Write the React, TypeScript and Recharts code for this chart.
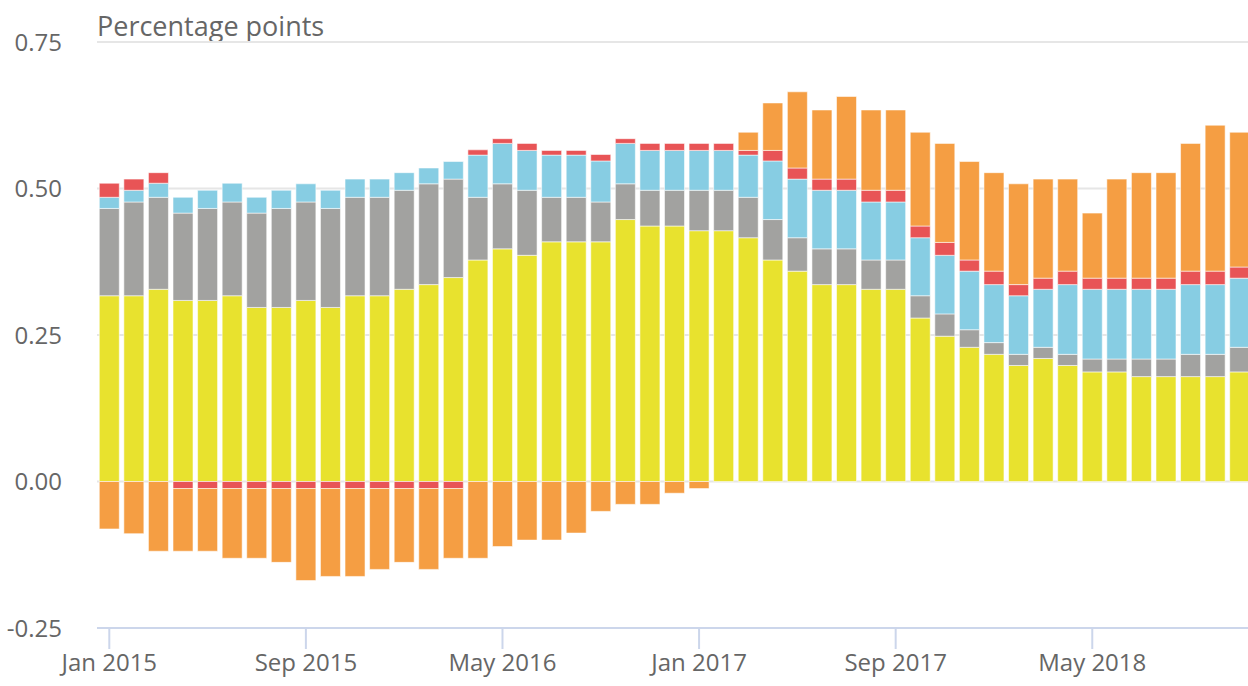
import React from "react";
import { BarChart, Bar, XAxis, YAxis, CartesianGrid } from "recharts";

const months = [
  "Jan 2015", "Feb 2015", "Mar 2015", "Apr 2015", "May 2015", "Jun 2015", "Jul 2015", "Aug 2015",
  "Sep 2015", "Oct 2015", "Nov 2015", "Dec 2015", "Jan 2016", "Feb 2016", "Mar 2016", "Apr 2016",
  "May 2016", "Jun 2016", "Jul 2016", "Aug 2016", "Sep 2016", "Oct 2016", "Nov 2016", "Dec 2016",
  "Jan 2017", "Feb 2017", "Mar 2017", "Apr 2017", "May 2017", "Jun 2017", "Jul 2017", "Aug 2017",
  "Sep 2017", "Oct 2017", "Nov 2017", "Dec 2017", "Jan 2018", "Feb 2018", "Mar 2018", "Apr 2018",
  "May 2018", "Jun 2018", "Jul 2018", "Aug 2018", "Sep 2018", "Oct 2018", "Nov 2018",
];

const yellowVals = [
  0.317, 0.317, 0.328, 0.309, 0.309, 0.317, 0.297, 0.297, 0.309, 0.297, 0.317, 0.317, 0.328, 0.336, 0.348, 0.378,
  0.397, 0.386, 0.409, 0.409, 0.409, 0.447, 0.436, 0.436, 0.428, 0.428, 0.416, 0.378, 0.359, 0.336, 0.336, 0.328,
  0.328, 0.279, 0.248, 0.229, 0.217, 0.198, 0.21, 0.198, 0.187, 0.187, 0.179, 0.179, 0.179, 0.179, 0.187,
];
const grayVals = [
  0.149, 0.16, 0.157, 0.149, 0.157, 0.16, 0.161, 0.169, 0.168, 0.169, 0.168, 0.168, 0.169, 0.172, 0.168, 0.107,
  0.111, 0.111, 0.076, 0.076, 0.068, 0.061, 0.061, 0.061, 0.069, 0.069, 0.069, 0.069, 0.057, 0.061, 0.061, 0.05,
  0.05, 0.038, 0.038, 0.03, 0.02, 0.019, 0.019, 0.019, 0.022, 0.022, 0.03, 0.03, 0.038, 0.038, 0.042,
];
const blueVals = [
  0.019, 0.02, 0.024, 0.027, 0.031, 0.032, 0.027, 0.031, 0.031, 0.031, 0.031, 0.031, 0.03, 0.027, 0.03, 0.072,
  0.069, 0.068, 0.072, 0.072, 0.07, 0.069, 0.068, 0.068, 0.068, 0.068, 0.072, 0.1, 0.1, 0.1, 0.1, 0.099,
  0.099, 0.099, 0.1, 0.1, 0.099, 0.1, 0.099, 0.119, 0.119, 0.119, 0.119, 0.119, 0.119, 0.119, 0.118,
];
const redVals = [
  0.024, 0.019, 0.018, -0.012, -0.012, -0.012, -0.012, -0.012, -0.012, -0.012, -0.012, -0.012, -0.012, -0.012, -0.012, 0.009,
  0.008, 0.012, 0.008, 0.008, 0.011, 0.008, 0.012, 0.012, 0.012, 0.012, 0.008, 0.018, 0.019, 0.019, 0.019, 0.02,
  0.02, 0.02, 0.022, 0.019, 0.023, 0.019, 0.019, 0.023, 0.019, 0.019, 0.019, 0.019, 0.023, 0.023, 0.019,
];
const orangeVals = [
  -0.081, -0.089, -0.119, -0.107, -0.107, -0.119, -0.119, -0.126, -0.157, -0.15, -0.15, -0.138, -0.126, -0.138, -0.119, -0.131,
  -0.111, -0.1, -0.1, -0.088, -0.051, -0.039, -0.039, -0.02, -0.012, 0, 0.031, 0.081, 0.13, 0.118, 0.141, 0.137,
  0.137, 0.16, 0.169, 0.168, 0.168, 0.172, 0.169, 0.157, 0.111, 0.169, 0.18, 0.18, 0.218, 0.249, 0.23,
];

const yTicks = [-0.25, 0, 0.25, 0.5, 0.75];

const data = months.map((m, i) => ({
  month: m,
  yellow: yellowVals[i],
  gray: grayVals[i],
  blue: blueVals[i],
  red: redVals[i],
  orange: orangeVals[i],
}));

const FONT = "'Open Sans', sans-serif";
const barStroke = "rgba(255,255,255,0.55)";

const MonthTick = ({ x, y, payload }: any) => (
  <g>
    <line x1={x} x2={x} y1={y} y2={y + 21} stroke="#ccd6eb" strokeWidth={2} />
    <text x={x} y={y + 43} textAnchor="middle" fill="#666666" fontSize={24} fontFamily={FONT}>
      {payload.value}
    </text>
  </g>
);

export default function App() {
  return (
    <div style={{ position: "absolute", left: 0, top: 0, width: 1248, height: 686, overflow: "hidden", background: "#fff" }}>
      <div
        style={{
          position: "absolute",
          left: 97,
          top: 12,
          fontFamily: FONT,
          fontSize: 27,
          lineHeight: "27px",
          color: "#666666",
          whiteSpace: "nowrap",
        }}
      >
        Percentage points
      </div>
      <BarChart
        width={1252}
        height={686}
        data={data}
        stackOffset="sign"
        barCategoryGap="9.3%"
        margin={{ top: 42, right: 0, bottom: 0, left: 0 }}
      >
        <CartesianGrid vertical={false} stroke="#e6e6e6" strokeWidth={2} />
        <XAxis
          dataKey="month"
          interval={7}
          height={58}
          tickSize={0}
          tickMargin={0}
          tickLine={false}
          axisLine={{ stroke: "#ccd6eb", strokeWidth: 2 }}
          tick={<MonthTick />}
        />
        <YAxis
          width={97}
          domain={[-0.25, 0.75]}
          ticks={yTicks}
          allowDataOverflow
          axisLine={false}
          tickLine={false}
          tickSize={0}
          tickMargin={35}
          tickFormatter={(v: number) => v.toFixed(2)}
          tick={{ fill: "#666666", fontSize: 24, fontFamily: FONT }}
        />
        <Bar dataKey="yellow" stackId="a" fill="#e8e22e" stroke={barStroke} isAnimationActive={false} />
        <Bar dataKey="gray" stackId="a" fill="#a2a2a0" stroke={barStroke} isAnimationActive={false} />
        <Bar dataKey="blue" stackId="a" fill="#87cde3" stroke={barStroke} isAnimationActive={false} />
        <Bar dataKey="red" stackId="a" fill="#e85456" stroke={barStroke} isAnimationActive={false} />
        <Bar dataKey="orange" stackId="a" fill="#f59e43" stroke={barStroke} isAnimationActive={false} />
      </BarChart>
    </div>
  );
}
